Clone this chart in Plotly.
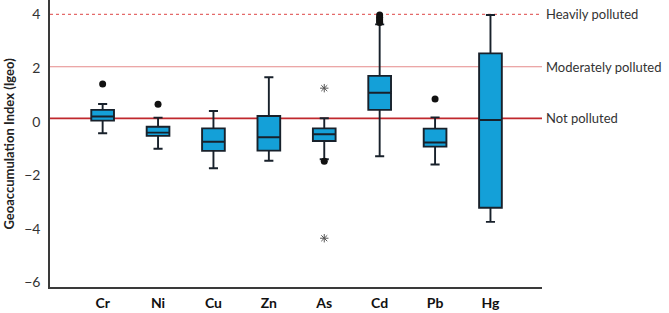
import plotly.graph_objects as go

elements = ["Cr", "Ni", "Cu", "Zn", "As", "Cd", "Pb", "Hg"]
lower_whisker = [-0.43, -1.01, -1.74, -1.46, -1.40, -1.29, -1.60, -3.74]
q1_vals = [0.04, -0.53, -1.09, -1.08, -0.72, 0.44, -0.93, -3.21]
median_vals = [0.19, -0.41, -0.75, -0.58, -0.47, 1.08, -0.78, 0.06]
q3_vals = [0.44, -0.19, -0.25, 0.21, -0.25, 1.71, -0.26, 2.55]
upper_whisker = [0.66, 0.15, 0.40, 1.66, 0.13, 3.63, 0.16, 3.98]

# mild outliers (filled dots)
dot_x = ["Cr", "Ni", "As", "Cd", "Cd", "Cd", "Cd", "Cd", "Pb"]
dot_y = [1.41, 0.65, -1.48, 3.98, 3.90, 3.83, 3.76, 3.70, 0.85]
# extreme outliers (asterisks)
star_x = ["As", "As"]
star_y = [1.25, -4.35]

thresholds = [4.0, 2.05, 0.12]
threshold_labels = ["Heavily polluted", "Moderately polluted", "Not polluted"]
threshold_colors = ["#e46a6a", "#e58a8a", "#c0282d"]
threshold_dash = ["dot", "solid", "solid"]
threshold_width = [1.2, 1.2, 1.8]

ytick_vals = [4, 2, 0, -2, -4, -6]

font_family = "Lato, 'Open Sans', sans-serif"

fig = go.Figure()

fig.add_trace(go.Box(
    x=elements,
    q1=q1_vals, median=median_vals, q3=q3_vals,
    lowerfence=lower_whisker, upperfence=upper_whisker,
    fillcolor="#14a0d8",
    line=dict(color="#18212b", width=1.9),
    width=0.41,
    whiskerwidth=0.4,
    boxpoints=False,
    showlegend=False,
    hoverinfo="skip",
))

fig.add_trace(go.Scatter(
    x=dot_x, y=dot_y, mode="markers",
    marker=dict(symbol="circle", size=7, color="#111111"),
    showlegend=False, hoverinfo="skip",
))
fig.add_trace(go.Scatter(
    x=star_x, y=star_y, mode="markers",
    marker=dict(symbol="asterisk-open", size=7, color="#555555",
                line=dict(color="#555555", width=1)),
    showlegend=False, hoverinfo="skip",
))

for val, lab, col, dash, w in zip(thresholds, threshold_labels, threshold_colors,
                                  threshold_dash, threshold_width):
    fig.add_shape(type="line", xref="paper", x0=0, x1=1, yref="y", y0=val, y1=val,
                  line=dict(color=col, width=w, dash=dash), layer="below")
    fig.add_annotation(xref="paper", x=1, xshift=2, y=val, yref="y",
                       text=lab, showarrow=False, xanchor="left", yanchor="middle",
                       font=dict(family=font_family, size=13, color="#333333"))

fig.update_layout(
    width=669, height=313,
    margin=dict(l=50, r=127, t=0, b=26, autoexpand=False),
    paper_bgcolor="white", plot_bgcolor="white",
    font=dict(family=font_family, color="#333333"),
    showlegend=False,
    annotations=list(fig.layout.annotations) + [
        dict(xref="paper", yref="paper", x=0, xshift=-42, y=0.5,
             text="<b>Geoaccumulation Index (Igeo)</b>", textangle=-90,
             showarrow=False, xanchor="center", yanchor="middle",
             font=dict(family=font_family, size=13, color="#222222"))
    ],
)

fig.update_xaxes(
    type="category", categoryorder="array", categoryarray=elements,
    range=[-0.95, 7.93], automargin=False,
    showline=True, linecolor="#3a3a3a", linewidth=1.5,
    showgrid=False, zeroline=False, ticks="",
    tickfont=dict(family=font_family, size=14, color="#111111", weight="bold"),
    ticklabelstandoff=2,
)
fig.update_yaxes(
    range=[-6.17, 4.54], automargin=False,
    tickvals=ytick_vals,
    showline=True, linecolor="#3a3a3a", linewidth=1.5,
    showgrid=False, zeroline=False, ticks="",
    tickfont=dict(family=font_family, size=14, color="#333333"),
    ticklabelstandoff=5,
)

fig.write_html("out.html", config={"displayModeBar": False},
               post_script="document.body.style.margin='0';")
